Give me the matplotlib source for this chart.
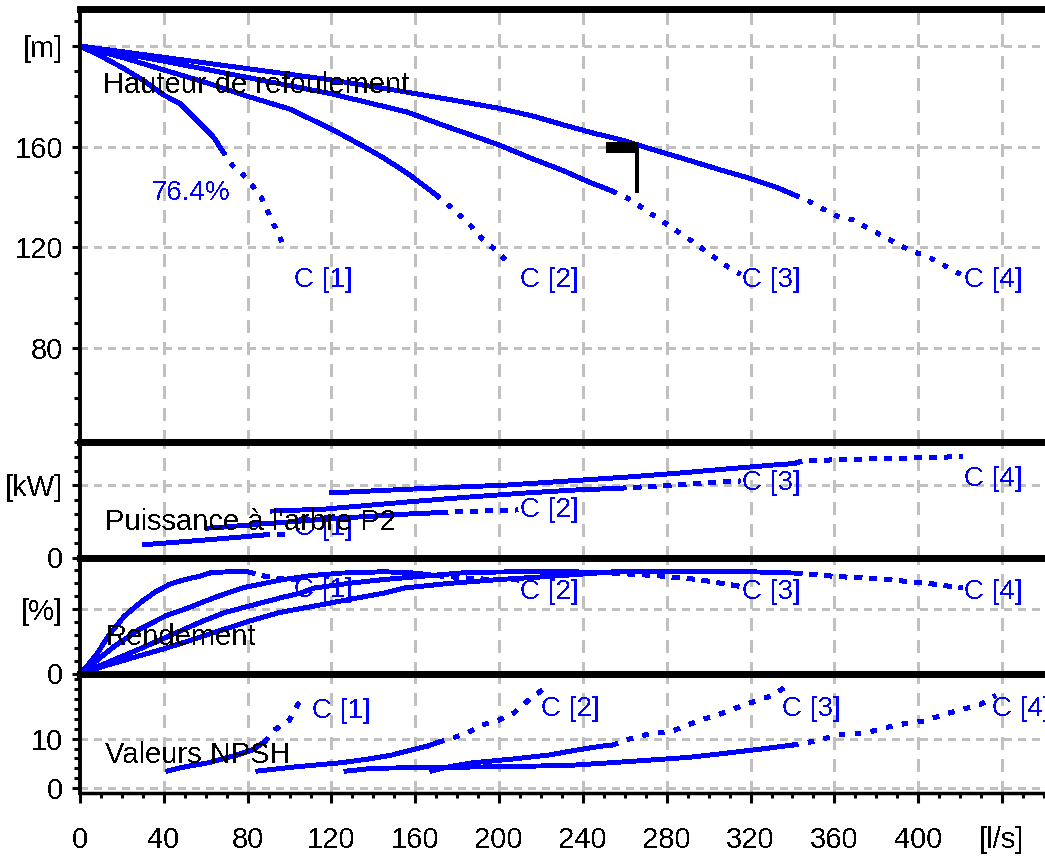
import matplotlib.pyplot as plt
from matplotlib.ticker import MultipleLocator

plt.rcParams['font.family'] = ['Liberation Sans', 'DejaVu Sans']
plt.rcParams['lines.antialiased'] = False
plt.rcParams['text.antialiased'] = False
plt.rcParams['lines.solid_capstyle'] = 'butt'
plt.rcParams['lines.dash_capstyle'] = 'butt'

BLUE = '#0000ff'
GREY = '#c0c0c0'

PUMPS = ['C [1]', 'C [2]', 'C [3]', 'C [4]']

# head [m] vs flow [l/s]; first list = operating range, *_EXT = dotted extension
H_Q = [[0, 10, 20, 30, 40, 48, 54, 60, 64, 68],
       [0, 20, 40, 60, 78, 100, 120, 134, 145, 157, 170],
       [0, 40, 80, 120, 156, 173, 184, 200, 215, 230, 244, 254],
       [0, 40, 80, 120, 153, 178, 199, 216, 231, 245, 260, 274, 287, 306, 319, 332, 341]]
H_VAL = [[200, 196, 191.5, 186.5, 180.5, 177, 172, 167, 163.5, 158.3],
         [200, 195.5, 190.5, 185.5, 180.5, 175, 167, 160.7, 155.5, 149, 140.8],
         [200, 194, 187.5, 181, 173.8, 168.6, 165.4, 160.7, 155.5, 150.7, 145.6, 142.4],
         [200, 195.5, 191, 186.5, 182.1, 178.5, 175.4, 172.2, 168.6, 165.4, 162.3, 158.7, 155.5, 150.7, 147.6, 144, 140.8]]
H_Q_EXT = [[68, 73, 78, 82, 87, 92, 97],
           [170, 177, 185, 192, 200, 206],
           [254, 262, 277, 292, 307, 315],
           [341, 346, 353, 361, 369, 376, 384, 391, 398, 405, 413, 420]]
H_VAL_EXT = [[158.3, 152.3, 148.7, 144.8, 139.2, 130, 121],
             [140.8, 136, 130, 123.3, 117.8, 112.2],
             [142.4, 139.2, 130.9, 122.5, 113.4, 109.4],
             [140.8, 139.2, 136, 132.5, 130.9, 127.7, 124.1, 120.9, 118.2, 116.2, 112.6, 109.4]]

# shaft power P2 [kW]
P_Q = [[30, 45, 60, 75, 87],
       [60, 69, 93, 125, 157, 172],
       [91, 116, 140, 160, 186, 213, 237, 257],
       [119, 160, 204, 233, 262, 287, 309, 331, 341]]
P_VAL = [[88, 105, 122, 140, 156],
         [203, 212, 240, 274, 302, 312],
         [322, 335, 365, 390, 420, 448, 469, 480],
         [448, 476, 503, 531, 559, 587, 615, 642, 652]]
P_Q_EXT = [[87, 95, 101],
           [172, 190, 209],
           [257, 285, 315],
           [341, 345, 383, 421]]
P_VAL_EXT = [[156, 158, 160],
             [312, 322, 330],
             [480, 505, 531],
             [652, 672, 686, 700]]

# efficiency [%]
E_Q = [[0, 4, 8, 14, 21, 29, 36, 43, 50, 57, 63, 72, 80],
       [0, 8, 16, 28, 41, 52, 64, 78, 97, 110, 125, 145, 160, 170],
       [0, 11, 30, 58, 69, 76, 83, 96, 105, 112, 128, 145, 163, 185, 210, 235, 254],
       [0, 15, 42, 80, 95, 105, 115, 133, 145, 155, 176, 200, 225, 255, 290, 320, 341]]
E_VAL = [[0, 7, 15, 30, 44, 55, 63, 69, 72.5, 75, 78, 78.5, 78.5],
         [0, 10, 20.5, 33.7, 44.6, 50.8, 58.5, 66.3, 72.5, 75.5, 77.5, 78.5, 77.5, 75.5],
         [0, 7, 20, 40, 47, 50, 53, 58.5, 62, 66, 69.5, 72.5, 75, 78, 78.5, 78.5, 77.5],
         [0, 7.4, 20, 40, 47, 50, 53, 58.5, 62, 66, 69.5, 72.5, 75, 78.5, 78.5, 78.5, 77.5]]
E_Q_EXT = [[80, 87, 95, 106],
           [170, 190, 212],
           [254, 275, 295, 316],
           [341, 360, 385, 405, 421]]
E_VAL_EXT = [[78.5, 75.5, 73, 72.5],
             [75.5, 73, 72],
             [77.5, 75.5, 72.5, 67],
             [77.5, 75, 72.5, 69.5, 66]]

# NPSH [m]
N_Q = [[41, 50, 61, 68, 75, 82, 88],
       [84, 103, 124, 138, 149, 158, 166, 171],
       [167, 176, 187, 207, 224, 237, 249, 254],
       [126, 140, 170, 200, 234, 263, 290, 307, 325, 340]]
N_VAL = [[3.4, 4.3, 5.1, 5.9, 6.7, 7.7, 9.3],
         [3.4, 4.3, 5.1, 5.9, 6.7, 7.7, 8.5, 9.3],
         [3.4, 4.3, 5.1, 5.9, 6.7, 7.7, 8.5, 8.7],
         [3.4, 4.0, 4.2, 4.3, 4.6, 5.4, 6.2, 7.0, 7.9, 8.7]]
N_Q_EXT = [[88, 93, 100, 104, 108],
           [171, 177, 185, 192, 199, 207, 214, 222],
           [254, 262, 270, 283, 295, 307, 318, 330, 336],
           [340, 348, 355, 362, 375, 390, 403, 413, 421, 430, 437]]
N_VAL_EXT = [[9.3, 11.8, 13.8, 17, 18.7],
             [9.3, 10, 11.2, 12.8, 13.6, 15.2, 17.8, 20.3],
             [8.7, 9.9, 10.8, 11.6, 13.6, 15.2, 17, 18.7, 20.3],
             [8.7, 9.3, 10, 10.8, 11.2, 12.8, 13.6, 15.0, 15.9, 17, 18.7]]

# curve name positions per panel
LABEL_Q = [116, 224, 330, 436]
LABEL_H = [107, 107, 107, 107]
LABEL_P = [205, 330, 517, 545]
LABEL_E = [64.7, 63, 63, 63]
LABEL_NQ = [124.6, 234, 349, 449]
LABEL_N = [15.6, 16, 16, 16]

# duty point on the head curve
DUTY_Q = 266
DUTY_H = 160
DUTY_H_LOW = 141.6
DUTY_BAR_Q = 251

X_TICKS = [0, 40, 80, 120, 160, 200, 240, 280, 320, 360, 400, 440]
X_LABELS = ['0', '40', '80', '120', '160', '200', '240', '280', '320', '360', '400', '[l/s]']

TICK_FS = 21
TITLE_FS = 21
CURVE_FS = 20

fig = plt.figure(figsize=(10.45, 8.64), dpi=100)
left = 80 / 1045
rows = [(8.5, 441.5), (441.5, 557.5), (557.5, 673.5), (673.5, 792.5)]
axes = [fig.add_axes([left, 1 - b / 864, 1 - left, (b - t) / 864]) for t, b in rows]
ax_h, ax_p, ax_e, ax_n = axes


def style(ax, ylim, yticks, ylabels, minor, last=False):
    ax.set_xlim(0, 460.5)
    ax.set_ylim(*ylim)
    ax.set_xticks(X_TICKS)
    ax.xaxis.set_minor_locator(MultipleLocator(10))
    ax.set_yticks(yticks, ylabels)
    ax.yaxis.set_minor_locator(MultipleLocator(minor))
    ax.spines['right'].set_visible(False)
    ax.spines['left'].set_linewidth(2.8)
    ax.spines['top'].set_linewidth(5)
    ax.spines['bottom'].set_linewidth(2.5 if last else 5)
    ax.tick_params(axis='y', which='major', length=6, width=2.2, pad=6, labelsize=TICK_FS)
    ax.tick_params(axis='y', which='minor', length=4.5, width=2.2)
    if last:
        ax.set_xticklabels(X_LABELS)
        ax.tick_params(axis='x', which='major', length=7, width=2.2, pad=17, labelsize=TICK_FS)
        ax.tick_params(axis='x', which='minor', length=3.5, width=2.2)
    else:
        ax.tick_params(axis='x', which='both', bottom=False, labelbottom=False)
    ax.xaxis.grid(True, color=GREY, lw=2, ls=(0, (4.5, 3.5)))
    ax.yaxis.grid(True, color=GREY, lw=2.2, ls=(0, (2.5, 2)))
    ax.set_axisbelow(True)


style(ax_h, (42.9, 214.9), [80, 120, 160, 200], ['80', '120', '160', '[m]'], 10)
style(ax_p, (0, 805), [0, 500], ['0', '[kW]'], 100)
style(ax_e, (0, 89.5), [0, 50], ['0', '[%]'], 10)
style(ax_n, (-0.9, 23.2), [0, 10], ['0', '10'], 2, last=True)

panels = [
    (ax_h, H_Q, H_VAL, H_Q_EXT, H_VAL_EXT, (0, (1.2, 2.8)), LABEL_Q, LABEL_H),
    (ax_p, P_Q, P_VAL, P_Q_EXT, P_VAL_EXT, (0, (2, 2)), LABEL_Q, LABEL_P),
    (ax_e, E_Q, E_VAL, E_Q_EXT, E_VAL_EXT, (0, (2, 2.2)), LABEL_Q, LABEL_E),
    (ax_n, N_Q, N_VAL, N_Q_EXT, N_VAL_EXT, (0, (1.4, 3)), LABEL_NQ, LABEL_N),
]
for ax, qs, vs, qx, vx, ext_ls, lq, lv in panels:
    for i in range(4):
        ax.plot(qs[i], vs[i], color=BLUE, lw=2.8)
        ax.plot(qx[i], vx[i], color=BLUE, lw=2.6, ls=ext_ls)
        ax.text(lq[i], lv[i], PUMPS[i], color=BLUE, fontsize=CURVE_FS,
                ha='center', va='center', clip_on=False)

# duty point marker
ax_h.plot([DUTY_BAR_Q, DUTY_Q], [DUTY_H, DUTY_H], color='black', lw=6.5)
ax_h.plot([DUTY_Q, DUTY_Q], [DUTY_H, DUTY_H_LOW], color='black', lw=2.6)
ax_h.text(34.4, 138.8, '76.4%', color=BLUE, fontsize=CURVE_FS, va='baseline')

ax_h.text(11, 181.3, 'Hauteur de refoulement', fontsize=TITLE_FS, va='baseline')
ax_p.text(12, 191, "Puissance à l'arbre P2", fontsize=TITLE_FS, va='baseline')
ax_e.text(12, 22, 'Rendement', fontsize=TITLE_FS, va='baseline')
ax_n.text(12, 5.1, 'Valeurs NPSH', fontsize=TITLE_FS, va='baseline')

fig.savefig('out.png', dpi=100)
